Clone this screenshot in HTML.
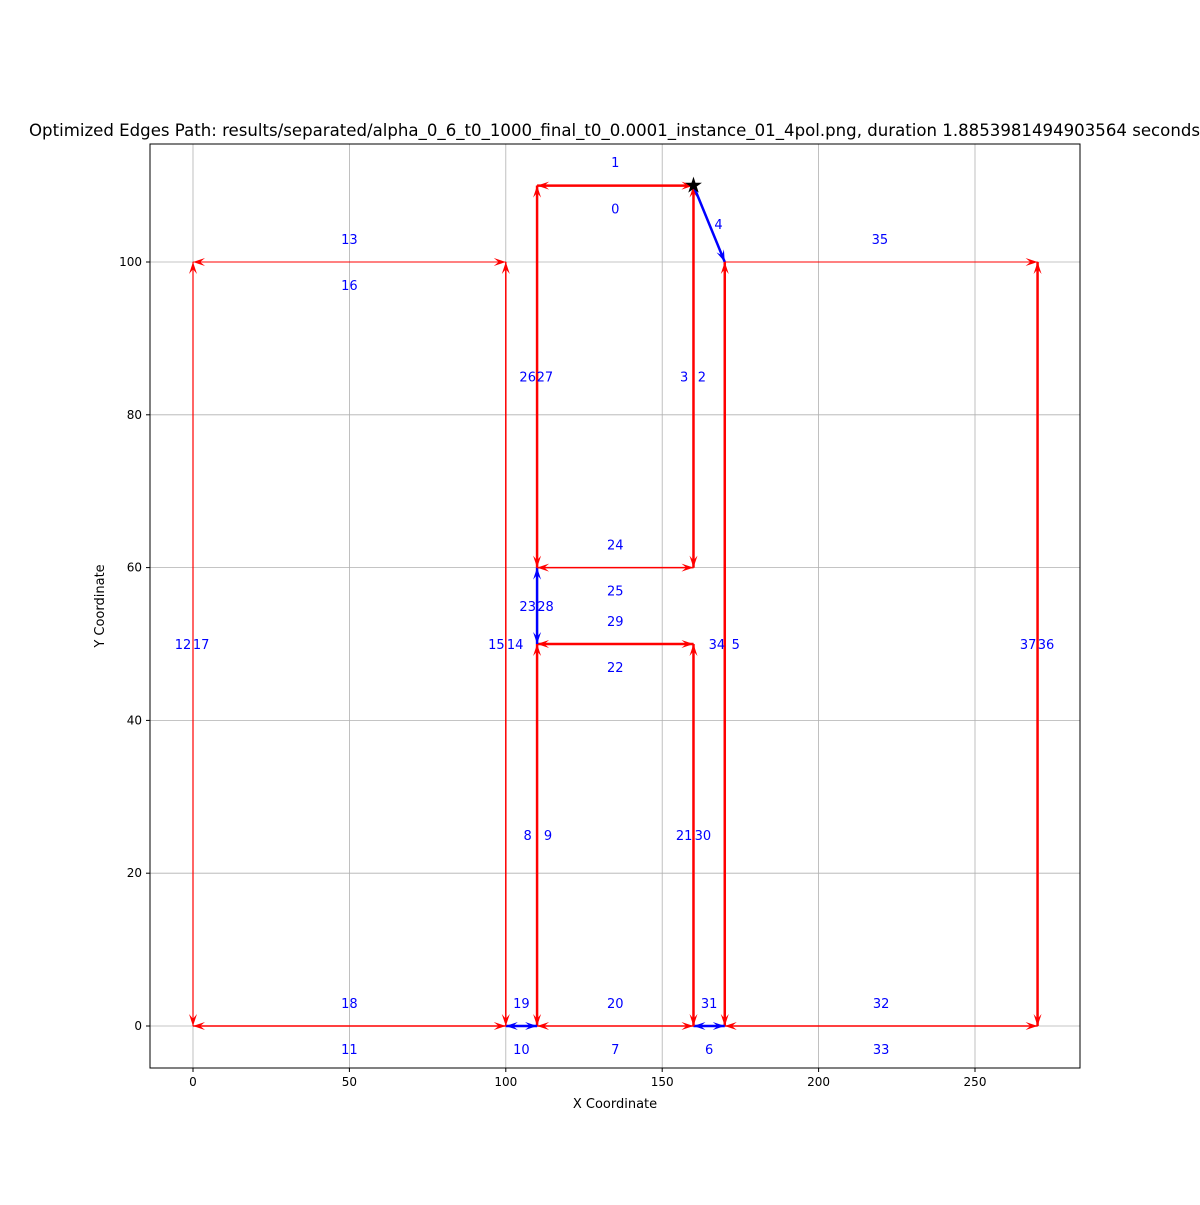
<!DOCTYPE html>
<html><head><meta charset="utf-8"><style>
html,body{margin:0;padding:0;background:#fff;}
svg text{font-family:"DejaVu Sans","Liberation Sans",sans-serif;}
</style></head><body>
<svg id="chart" width="1200" height="1200" xmlns="http://www.w3.org/2000/svg">
<rect width="1200" height="1200" fill="#fff"/>
<g id="grid"></g><g id="polys"></g><g id="edges"></g><g id="labels"></g><g id="axes"></g>
</svg>
<script>
const xTicks=[0,50,100,150,200,250];
const yTicks=[0,20,40,60,80,100];
// polygon outlines (gray)
const polygons=[[[0,0],[100,0],[100,100],[0,100]],[[110,0],[160,0],[160,50],[110,50]],[[110,60],[160,60],[160,110],[110,110]],[[170,0],[270,0],[270,100],[170,100]]];
const edgeFrom=[[110,110],[160,110],[160,110],[170,100],[170,100],[270,100],[170,0],[160,0],[110,0],[160,0],[110,50],[110,50],[110,60],[110,60],[110,0],[100,0],[0,0],[0,0],[0,100],[100,0]];
const edgeTo=[[160,110],[160,60],[170,100],[170,0],[270,100],[270,0],[270,0],[170,0],[160,0],[160,50],[160,50],[110,60],[160,60],[110,110],[110,50],[110,0],[100,0],[0,100],[100,100],[100,100]];
const edgeColor=["red","red","blue","red","red","red","red","blue","red","red","red","blue","red","red","red","blue","red","red","red","red"];
const edgeWidth=[2.5,2.5,2.5,2.5,1,2.5,1.5,2.5,1.5,2.5,2.5,2.5,1.5,2.5,2.5,2.5,1.5,1.2,1,1.5];
const edgeBoth=[1,1,0,1,0,1,1,1,1,1,1,1,1,1,1,1,1,1,1,1];
const labelText=["1","0","4","35","13","16","26","27","3","2","24","25","23","28","29","22","12","17","15","14","34","5","37","36","8","9","21","30","18","11","19","10","20","7","31","6","32","33"];
const labelX=[135,135,168,219.6,50,50,107,112.5,157,162.7,135,135,107,112.7,135,135,-3.2,2.6,97,103,167.5,173.5,267,272.7,107,113.5,157,163,50,50,105,105,135,135,165,165,220,220];
const labelY=[113.1,107,105,103,103,97,85,85,85,85,63,57,55,55,53,47,50,50,50,50,50,50,50,50,25,25,25,25,3,-3,3,-3,3,-3,3,-3,3,-3];
const star=[160,110];

const X=v=>193+3.128*v, Y=v=>1026-7.64*v;
const NS="http://www.w3.org/2000/svg";
function mk(tag,attrs,parent){const e=document.createElementNS(NS,tag);for(const k in attrs)e.setAttribute(k,attrs[k]);parent.appendChild(e);return e;}
const grid=document.getElementById('grid'),polys=document.getElementById('polys'),edges=document.getElementById('edges'),labels=document.getElementById('labels'),axes=document.getElementById('axes');
const L=150,R=1080,T=144,B=1068;
xTicks.forEach(t=>{const l=mk('line',{x1:X(t),x2:X(t),y1:T,y2:B,stroke:'#b0b0b0','stroke-width':0.8},grid);


mk('line',{x1:X(t),x2:X(t),y1:B,y2:B+4,stroke:'#000'},axes);
const tx=mk('text',{x:X(t),y:B+18,'text-anchor':'middle','font-size':12},axes);tx.textContent=t;

});
yTicks.forEach(t=>{const l=mk('line',{x1:L,x2:R,y1:Y(t),y2:Y(t),stroke:'#b0b0b0','stroke-width':0.8},grid);


mk('line',{x1:L-4,x2:L,y1:Y(t),y2:Y(t),stroke:'#000'},axes);
const tx=mk('text',{x:L-8,y:Y(t)+4,'text-anchor':'end','font-size':12},axes);tx.textContent=t;

});
polygons.forEach(p=>{const pg=mk('polygon',{points:p.map(q=>X(q[0])+','+Y(q[1])).join(' '),fill:'none',stroke:'#808080','stroke-width':1},polys);

});
function head(x1,y1,x2,y2,c){const dx=x2-x1,dy=y2-y1,d=Math.hypot(dx,dy),ux=dx/d,uy=dy/d,len=12,w=4;
const bx=x2-ux*len,by=y2-uy*len,nx=x2-ux*len*0.6,ny=y2-uy*len*0.6;
const h=mk('polygon',{points:`${x2},${y2} ${bx-uy*w},${by+ux*w} ${nx},${ny} ${bx+uy*w},${by-ux*w}`,fill:c,stroke:'none'},edges);

}
edgeFrom.forEach((f,i)=>{const t=edgeTo[i],x1=X(f[0]),y1=Y(f[1]),x2=X(t[0]),y2=Y(t[1]);
const ln=mk('line',{x1,y1,x2,y2,stroke:edgeColor[i],'stroke-width':edgeWidth[i]},edges);


head(x1,y1,x2,y2,edgeColor[i]);if(edgeBoth[i])head(x2,y2,x1,y1,edgeColor[i]);});
labelText.forEach((s,i)=>{const tx=mk('text',{x:X(labelX[i]),y:Y(labelY[i])+5,'text-anchor':'middle','font-size':13,fill:'blue'},labels);tx.textContent=s;

});
const st=mk('text',{x:X(star[0]),y:Y(star[1])+7,'text-anchor':'middle','font-size':22,fill:'#000'},labels);st.textContent='★';


const fr=mk('rect',{x:L,y:T,width:R-L,height:B-T,fill:'none',stroke:'#000','stroke-width':1},axes);


const ti=mk('text',{x:29,y:136,'font-size':16.5,textLength:1171,lengthAdjust:'spacingAndGlyphs'},axes);ti.textContent='Optimized Edges Path: results/separated/alpha_0_6_t0_1000_final_t0_0.0001_instance_01_4pol.png, duration 1.8853981494903564 seconds';


const xl=mk('text',{x:615,y:1108,'text-anchor':'middle','font-size':13},axes);xl.textContent='X Coordinate';


const yl=mk('text',{x:0,y:0,'text-anchor':'middle','font-size':13,transform:'translate(104,606) rotate(-90)'},axes);yl.textContent='Y Coordinate';


</script>
</body></html>
